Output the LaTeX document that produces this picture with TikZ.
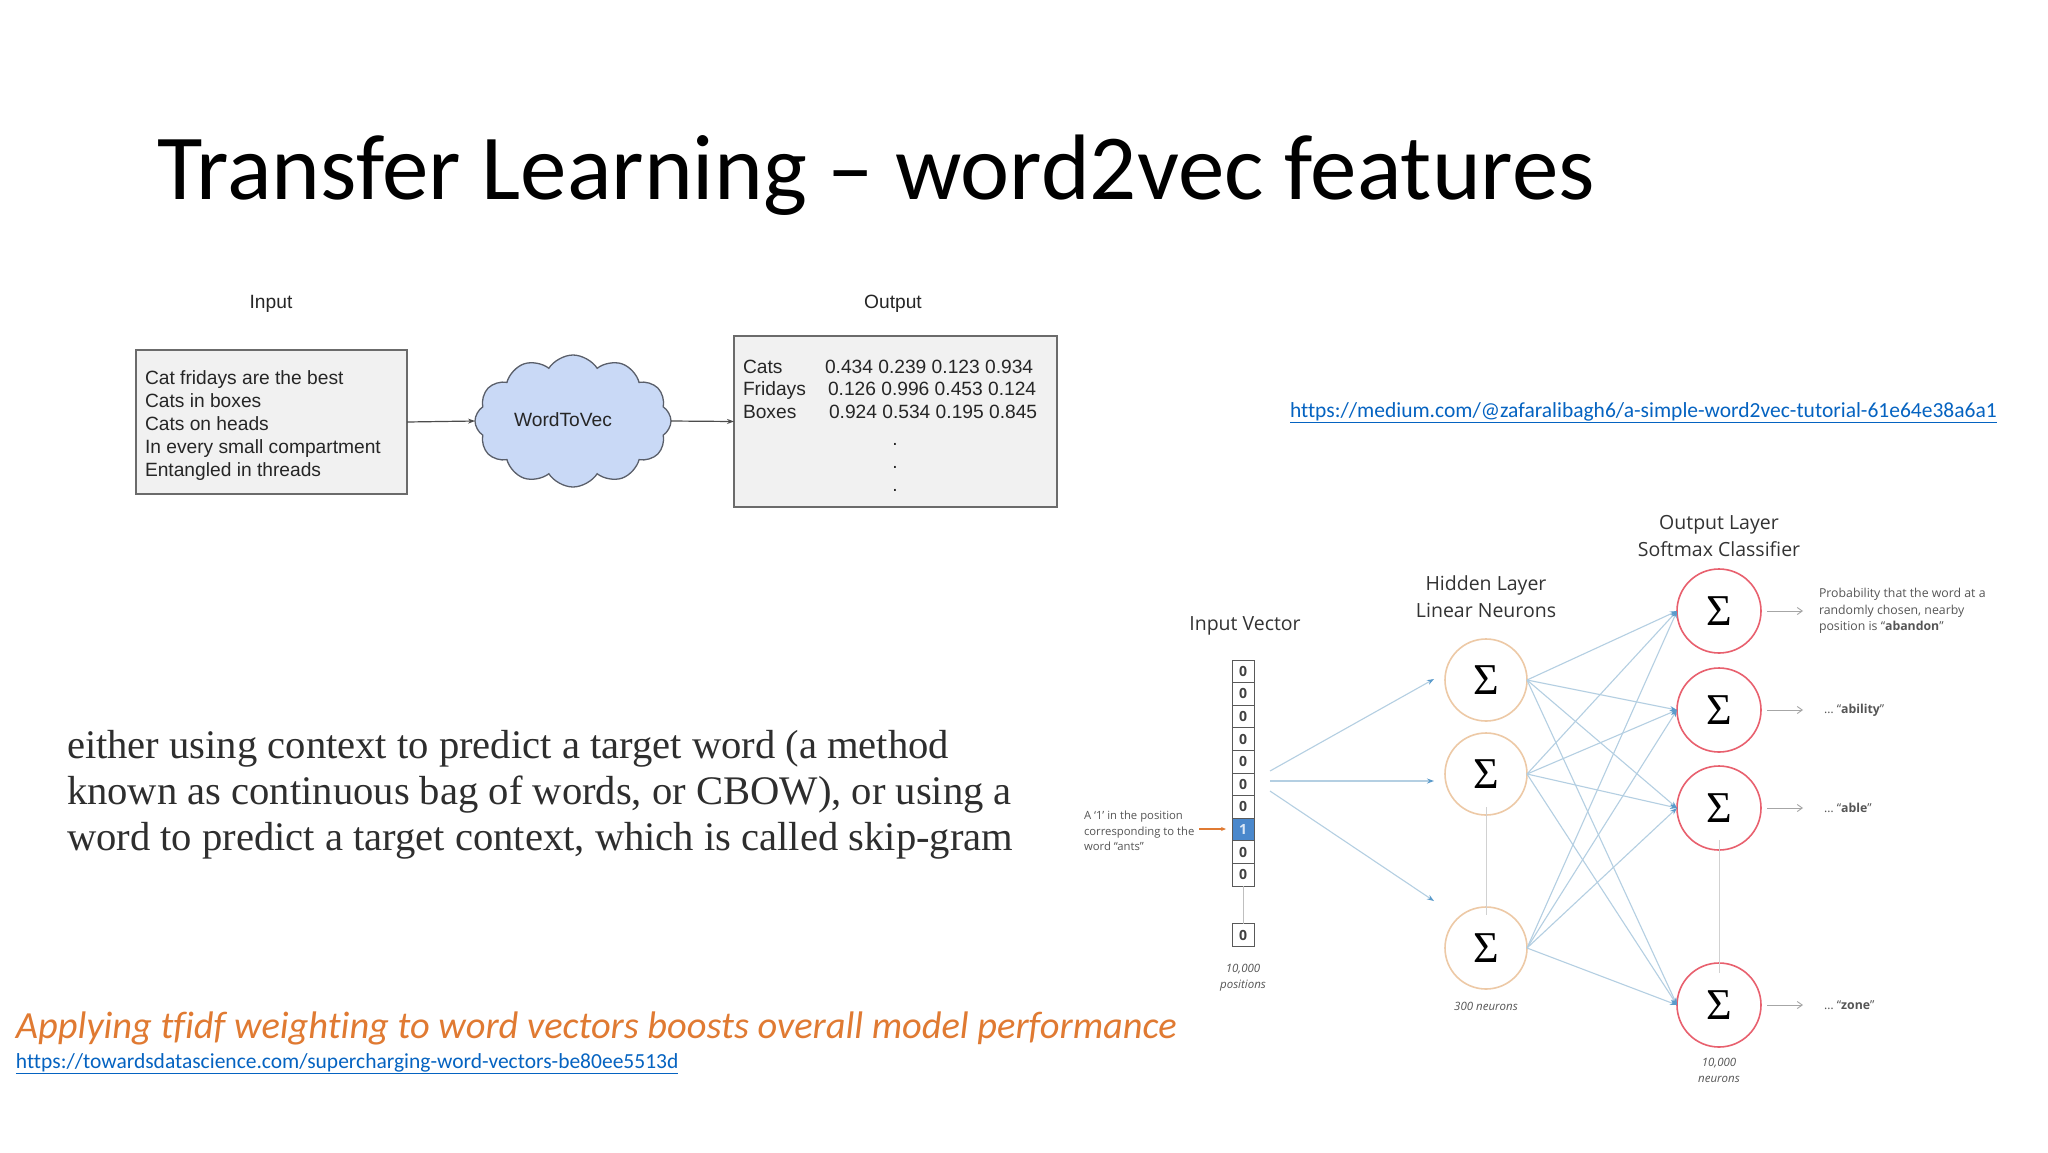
\documentclass[tikz,border=0pt]{standalone}
\usepackage{fontspec}
\setmainfont{Carlito}[Ligatures={TeX,NoCommon}]
\newfontfamily\arialf{Liberation Sans}
\newfontfamily\bodyf{Liberation Serif}
\newfontfamily\osans{Open Sans}
\usetikzlibrary{shapes.symbols,arrows.meta}
\definecolor{bodygray}{HTML}{2E2E2E}
\definecolor{orangetxt}{HTML}{E07A32}
\definecolor{linkblue}{HTML}{0563C1}
\definecolor{boxfill}{HTML}{F1F1F1}
\definecolor{boxline}{HTML}{6B6B6B}
\definecolor{cloudfill}{HTML}{C9D9F6}
\definecolor{cloudline}{HTML}{5A5F6A}
\definecolor{hidline}{HTML}{EDC9A6}
\definecolor{outline}{HTML}{E8606E}
\definecolor{wire}{HTML}{B4CFE2}
\definecolor{wiretip}{HTML}{5B9BCB}
\definecolor{cellblue}{HTML}{4A88CC}
\definecolor{labgray}{HTML}{555555}
\begin{document}
\begin{tikzpicture}[x=1pt,y=-1pt,
  every node/.style={inner sep=0pt,outer sep=0pt},
  diag/.style={font=\arialf\fontsize{19.2}{23}\selectfont,text=black!85},
  flow/.style={draw=black!70,line width=1.2,-{Stealth[length=7,width=5]}},
  cellbox/.style={draw=black!65,line width=1,minimum width=22,minimum height=22.6,font=\osans\bfseries\fontsize{14}{14}\selectfont,text=black!75},
  hid/.style={circle,draw=hidline,line width=1.6,minimum size=82,font=\bodyf\fontsize{44}{44}\selectfont},
  outn/.style={circle,draw=outline,line width=1.6,minimum size=84,font=\bodyf\fontsize{44}{44}\selectfont},
  wireln/.style={draw=wire,line width=1.1,-{Stealth[length=7,width=5,color=wiretip]}},
  nnlab/.style={font=\osans\fontsize{19.5}{27}\selectfont,text=black!80,align=center},
  small/.style={font=\osans\fontsize{12.3}{16.5}\selectfont,text=labgray,align=left},
  smallit/.style={font=\osans\itshape\fontsize{11.5}{16}\selectfont,text=labgray,align=center},
  outarr/.style={draw=black!35,line width=0.9,-{Straight Barb[length=5,width=7]}},
  link/.style={font=\fontsize{21.5}{24}\selectfont,text=linkblue}
]
\useasboundingbox (0,0) rectangle (2048,1152);
\fill[white] (0,0) rectangle (2048,1152);

% title
\node[anchor=base west,font=\fontsize{93}{110}\selectfont] (title) at (157,199) {Transfer Learning – word2vec features};

% left diagram
\node[diag] (inlab) at (271,304) {Input};
\node[diag] (outlab) at (893,304) {Output};
\node[draw=boxline,fill=boxfill,line width=1.5,anchor=north west,minimum width=271,minimum height=144] (inbox) at (136,350) {};
\node[diag,anchor=west,align=left] (intext) at ([xshift=9,yshift=-3.5]inbox.west)
 {Cat fridays are the best\\Cats in boxes\\Cats on heads\\In every small compartment\\Entangled in threads};
\node[cloud,cloud puffs=12,cloud puff arc=115,aspect=1.5,draw=cloudline,fill=cloudfill,line width=1.3,minimum width=196,minimum height=132] (cloud) at (573,421) {};
\node[diag] (w2v) at (563,420) {WordToVec};
\node[draw=boxline,fill=boxfill,line width=1.5,anchor=north west,minimum width=323,minimum height=171] (outbox) at (734,336) {};
\node[diag,anchor=base west] (r1) at (743,373) {Cats};
\node[diag,anchor=base west] (r2) at (743,395) {Fridays};
\node[diag,anchor=base west] (r3) at (743,418) {Boxes};
\node[diag,anchor=base west] (n1) at (825,373) {0.434 0.239 0.123 0.934};
\node[diag,anchor=base west] (n2) at (828,395) {0.126 0.996 0.453 0.124};
\node[diag,anchor=base west] (n3) at (829,418) {0.924 0.534 0.195 0.845};
\node[diag] (d1) at (895,444) {.};
\node[diag] (d2) at (895,467) {.};
\node[diag] (d3) at (895,490) {.};
\draw[flow] (inbox.east) -- (cloud.west);
\draw[flow] (cloud.east) -- (outbox.west);

% link right
\node[link,anchor=base west] (url1) at (1290,417) {\underline{https://medium.com/@zafaralibagh6/a-simple-word2vec-tutorial-61e64e38a6a1}};

% body text
\node[anchor=base west,font=\bodyf\fontsize{40.6}{46}\selectfont,text=bodygray] (b1) at (67,758) {either using context to predict a target word (a method};
\node[anchor=base west,font=\bodyf\fontsize{40.6}{46}\selectfont,text=bodygray] (b2) at (67,804) {known as continuous bag of words, or CBOW), or using a};
\node[anchor=base west,font=\bodyf\fontsize{40.6}{46}\selectfont,text=bodygray] (b3) at (67,850) {word to predict a target context, which is called skip-gram};

% orange + link bottom
\node[anchor=base west,font=\itshape\fontsize{38.4}{40}\selectfont,text=orangetxt] (orange) at (16,1038) {Applying tfidf weighting to word vectors boosts overall model performance};
\node[link,anchor=base west] (url2) at (16,1068) {\underline{https://towardsdatascience.com/supercharging-word-vectors-be80ee5513d}};

% neural net
\node[nnlab] (ivlab) at (1245,626) {Input Vector};
\foreach \i in {1,...,10}{
  \ifnum\i=8
    \node[cellbox,fill=cellblue,text=white!80!cellblue] (v\i) at (1243,{660+11.3+(\i-1)*22.6}) {1};
  \else
    \node[cellbox] (v\i) at (1243,{660+11.3+(\i-1)*22.6}) {0};
  \fi
}
\node[cellbox] (vL) at (1243,935) {0};
\draw[draw=black!25,line width=1] (v10.south) -- (vL.north);
\node[smallit] (pos) at (1243,978) {10,000\\positions};
\node[small,anchor=west,font=\osans\fontsize{11.3}{15.5}\selectfont] (ants) at (1084,831) {A ‘1’ in the position\\corresponding to the\\word “ants”};
\draw[draw=orangetxt,line width=1.2,-{Stealth[length=5,width=4]}] (1199,829) coordinate (oa1) -- (1226,829) coordinate (oa2);

\node[hid] (h1) at (1486,680) {Σ};
\node[hid] (h2) at (1486,774) {Σ};
\node[hid] (h3) at (1486,948) {Σ};
\draw[draw=black!18,line width=1] ([yshift=8]h2.south) coordinate (hg1) -- ([yshift=-8]h3.north) coordinate (hg2);
\node[nnlab] (hlab) at (1486,597) {Hidden Layer\\Linear Neurons};
\node[smallit] (hn) at (1486,1006) {300 neurons};

\node[outn] (o1) at (1719,611) {Σ};
\node[outn] (o2) at (1719,710) {Σ};
\node[outn] (o3) at (1719,808) {Σ};
\node[outn] (o4) at (1719,1005) {Σ};
\draw[draw=black!18,line width=1] ([yshift=10]o3.south) coordinate (og1) -- ([yshift=-10]o4.north) coordinate (og2);
\node[nnlab] (olab) at (1719,536) {Output Layer\\Softmax Classifier};
\node[smallit] (on) at (1719,1070) {10,000\\neurons};

% input wires
\coordinate (s1) at (1270,771);
\coordinate (s2) at (1270,781);
\coordinate (s3) at (1270,791);
\coordinate (t1) at (1434,679);
\coordinate (t2) at (1434,781);
\coordinate (t3) at (1434,901);
\draw[wireln] (s1) -- (t1);
\draw[wireln] (s2) -- (t2);
\draw[wireln] (s3) -- (t3);

% hidden-output wires
\foreach \a in {1,2,3}{
  \foreach \b in {1,2,3,4}{
    \draw[wireln] (h\a.east) -- (o\b.west);
  }
}

% output arrows and labels
\foreach \b in {1,2,3,4}{
  \draw[outarr] ([xshift=6]o\b.east) coordinate (oa\b s) -- ([xshift=42]o\b.east) coordinate (oa\b e);
}
\node[small,anchor=west] (p1) at (1819,611) {Probability that the word at a\\randomly chosen, nearby\\position is “\textbf{abandon}”};
\node[small,anchor=west] (p2) at (1824,710) {… “\textbf{ability}”};
\node[small,anchor=west] (p3) at (1824,808) {… “\textbf{able}”};
\node[small,anchor=west] (p4) at (1824,1005) {… “\textbf{zone}”};
\end{tikzpicture}
\end{document}
